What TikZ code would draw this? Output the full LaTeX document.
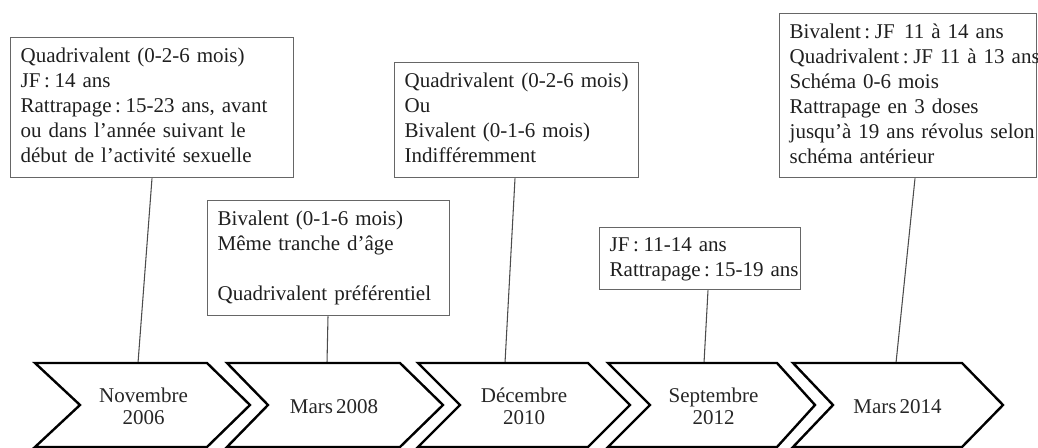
\documentclass[tikz,border=0pt]{standalone}
\usepackage{fontspec}
\setmainfont{Liberation Serif}[WordSpace=0.6]
\newcommand{\clnx}{\kern0.17em:\kern0.22em}
\begin{document}
\begin{tikzpicture}[x=0.75pt,y=-0.75pt,
  txt/.style={font=\fontsize{15.75}{18.75}\selectfont, text=black!88},
  tbox/.style={txt, draw=black!60, line width=1pt, anchor=north west, inner xsep=7.5pt, inner ysep=0pt, align=left},
  chev/.style={draw=black, line width=1.8pt, line join=miter, fill=white},
  clabel/.style={font=\fontsize{15.75}{16.5}\selectfont, align=center, text=black!85},
  conn/.style={draw=black!70, line width=0.8pt}]
\useasboundingbox (0,0) rectangle (1038,448);

% text boxes
\node[tbox, text width=197.25pt, minimum height=105pt] (b1) at (10,37)
  {\begin{tabular}{@{}l@{}}Quadrivalent (0-2-6 mois)\\ JF\clnx 14 ans\\ Rattrapage\clnx 15-23 ans, avant\\ ou dans l’année suivant le\\ début de l’activité sexuelle\end{tabular}};
\node[tbox, text width=166.5pt, minimum height=86.25pt] (b2) at (207,200)
  {\begin{tabular}{@{}l@{}}Bivalent (0-1-6 mois)\\ Même tranche d’âge\\ \\ Quadrivalent préférentiel\end{tabular}};
\node[tbox, text width=168pt, minimum height=86.25pt] (b3) at (394,62)
  {\begin{tabular}{@{}l@{}}Quadrivalent (0-2-6 mois)\\ Ou\\ Bivalent (0-1-6 mois)\\ Indifféremment\end{tabular}};
\node[tbox, text width=135.75pt, minimum height=46.5pt] (b4) at (599,227)
  {\begin{tabular}{@{}l@{}}JF\clnx 11-14 ans\\ Rattrapage\clnx 15-19 ans\end{tabular}};
\node[tbox, text width=177.75pt, minimum height=123pt] (b5) at (779,13)
  {\begin{tabular}{@{}l@{}}Bivalent\clnx JF\hspace{0.45em}11 à 14 ans\\ Quadrivalent\clnx JF 11 à 13 ans\\ Schéma 0-6 mois\\ Rattrapage en 3 doses\\ jusqu’à 19 ans révolus selon\\ schéma antérieur\end{tabular}};

% connector end points on the chevrons
\coordinate (c1t) at (138,363);
\coordinate (c2t) at (327,363);
\coordinate (c3t) at (505,363);
\coordinate (c4t) at (704,363);
\coordinate (c5t) at (896,363);

\draw[conn] ([xshift=106.5pt]b1.south west) -- (c1t);
\draw[conn] ([xshift=90.75pt]b2.south west) -- (c2t);
\draw[conn] ([xshift=90.75pt]b3.south west) -- (c3t);
\draw[conn] ([xshift=81.75pt]b4.south west) -- (c4t);
\draw[conn] ([xshift=102pt]b5.south west) -- (c5t);

% chevrons
\draw[chev] (35,363) -- (207,363) -- (250,405) -- (207,447) -- (35,447) -- (80,405) -- cycle;
\draw[chev] (227,363) -- (400,363) -- (443,405) -- (400,447) -- (227,447) -- (268,405) -- cycle;
\draw[chev] (418,363) -- (588,363) -- (630,405) -- (588,447) -- (418,447) -- (460,405) -- cycle;
\draw[chev] (608,363) -- (777,363) -- (815,405) -- (777,447) -- (608,447) -- (650,405) -- cycle;
\draw[chev] (793,363) -- (962,363) -- (1003,405) -- (962,447) -- (793,447) -- (833,405) -- cycle;

\node[clabel] (c1) at (143.5,406) {Novembre\\2006};
\node[clabel] (c2) at (334,407) {Mars 2008};
\node[clabel] (c3) at (524,406) {Décembre\\2010};
\node[clabel] (c4) at (713.5,406) {Septembre\\2012};
\node[clabel] (c5) at (897.5,407) {Mars 2014};
\end{tikzpicture}
\end{document}
